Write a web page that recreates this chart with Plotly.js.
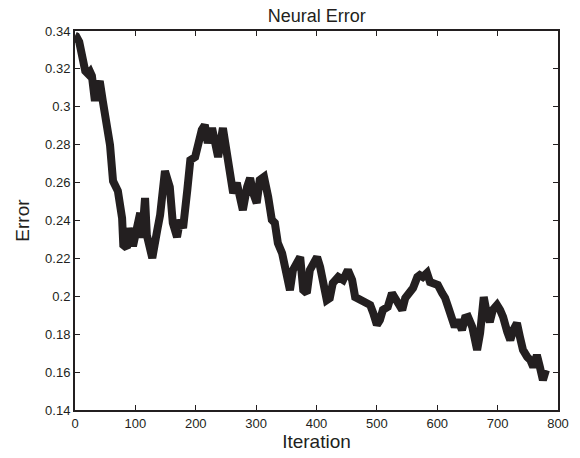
<!DOCTYPE html>
<html>
<head>
<meta charset="utf-8">
<script src="https://cdn.plot.ly/plotly-3.0.1.min.js"></script>
<style>
  html, body { margin: 0; padding: 0; background: #ffffff; }
  #chart { width: 580px; height: 458px; }
</style>
</head>
<body>
<div id="chart"></div>
<script>
// Training error of the neural network, sampled along the run
const iterations = [
  0, 2, 7, 12, 17, 22, 25, 28, 33, 36, 41, 46, 50, 53, 58, 63, 71, 78, 80, 86,
  89, 96, 103, 108, 111, 116, 119, 128, 136, 141, 149, 154, 157, 162, 169, 174,
  179, 186, 191, 199, 204, 210, 215, 220, 227, 232, 237, 245, 252, 257, 262, 268,
  273, 278, 285, 290, 295, 301, 306, 313, 320, 326, 331, 336, 343, 351, 356, 361,
  368, 373, 378, 384, 389, 394, 401, 406, 411, 417, 422, 427, 436, 444, 452, 459,
  464, 472, 480, 489, 494, 500, 505, 510, 518, 525, 530, 535, 542, 547, 555, 560,
  567, 571, 576, 583, 588, 593, 601, 608, 613, 618, 624, 629, 634, 641, 646, 651,
  658, 666, 671, 677, 682, 687, 692, 699, 704, 709, 716, 721, 726, 732, 737, 742,
  749, 754, 759, 765, 770, 775, 780
];
const errors = [
  0.3375, 0.3372, 0.3342, 0.3242, 0.3189, 0.3173, 0.3184, 0.3163, 0.3031, 0.3089,
  0.3136, 0.3031, 0.2957, 0.2851, 0.2798, 0.2608, 0.2556, 0.2413, 0.2271, 0.2255,
  0.2360, 0.2265, 0.2360, 0.2440, 0.2308, 0.2519, 0.2323, 0.2202, 0.2345, 0.2429,
  0.2661, 0.2587, 0.2577, 0.2387, 0.2313, 0.2403, 0.2360, 0.2561, 0.2719, 0.2735,
  0.2825, 0.2878, 0.2904, 0.2809, 0.2888, 0.2788, 0.2735, 0.2888, 0.2719, 0.2614,
  0.2545, 0.2598, 0.2492, 0.2455, 0.2577, 0.2624, 0.2545, 0.2492, 0.2614, 0.2630,
  0.2524, 0.2403, 0.2387, 0.2281, 0.2228, 0.2102, 0.2033, 0.2139, 0.2192, 0.2207,
  0.2033, 0.2017, 0.2139, 0.2176, 0.2207, 0.2155, 0.2049, 0.1980, 0.1991, 0.2070,
  0.2102, 0.2086, 0.2139, 0.2086, 0.1996, 0.1980, 0.1970, 0.1954, 0.1912, 0.1849,
  0.1875, 0.1928, 0.1944, 0.2017, 0.1991, 0.1965, 0.1928, 0.1991, 0.2017, 0.2044,
  0.2102, 0.2112, 0.2102, 0.2123, 0.2075, 0.2070, 0.2060, 0.2017, 0.1991, 0.1944,
  0.1886, 0.1838, 0.1875, 0.1822, 0.1886, 0.1891, 0.1838, 0.1717, 0.1806, 0.1996,
  0.1912, 0.1864, 0.1928, 0.1954, 0.1928, 0.1891, 0.1812, 0.1769, 0.1822, 0.1859,
  0.1785, 0.1717, 0.1680, 0.1664, 0.1627, 0.1690, 0.1627, 0.1558, 0.1611
];

const xTicks = [0, 100, 200, 300, 400, 500, 600, 700, 800];
const yTicks = [0.14, 0.16, 0.18, 0.2, 0.22, 0.24, 0.26, 0.28, 0.3, 0.32, 0.34];
const yTickText = ['0.14', '0.16', '0.18', '0.2', '0.22', '0.24', '0.26', '0.28', '0.3', '0.32', '0.34'];

const FONT = '"Liberation Sans", Arial, Helvetica, sans-serif';

const trace = {
  x: iterations,
  y: errors,
  type: 'scatter',
  mode: 'lines',
  line: { color: '#231f20', width: 8, shape: 'linear' },
  hoverinfo: 'skip'
};

const axisCommon = {
  showgrid: false,
  zeroline: false,
  showline: true,
  linecolor: '#231f20',
  linewidth: 2,
  mirror: 'ticks',
  ticks: 'inside',
  ticklen: 5,
  tickwidth: 1,
  tickcolor: '#231f20',
  tickfont: { family: FONT, size: 13, color: '#231f20' }
};

const layout = {
  width: 580,
  height: 458,
  margin: { l: 75, r: 22, t: 31, b: 48, pad: 0 },
  paper_bgcolor: '#ffffff',
  plot_bgcolor: '#ffffff',
  showlegend: false,
  font: { family: FONT, color: '#231f20' },
  title: {
    text: 'Neural Error',
    font: { family: FONT, size: 18, color: '#231f20' },
    x: 0.546, xanchor: 'center',
    y: 0.966, yanchor: 'middle'
  },
  xaxis: Object.assign({}, axisCommon, {
    range: [0, 800],
    tickmode: 'array',
    tickvals: xTicks,
    title: { text: 'Iteration', font: { family: FONT, size: 19, color: '#231f20' }, standoff: 5 }
  }),
  yaxis: Object.assign({}, axisCommon, {
    range: [0.14, 0.34],
    tickmode: 'array',
    tickvals: yTicks,
    ticktext: yTickText,
    automargin: true,
    title: { text: 'Error', font: { family: FONT, size: 19, color: '#231f20' }, standoff: 10 }
  })
};

Plotly.newPlot('chart', [trace], layout, { displayModeBar: false, staticPlot: true });
</script>
</body>
</html>
